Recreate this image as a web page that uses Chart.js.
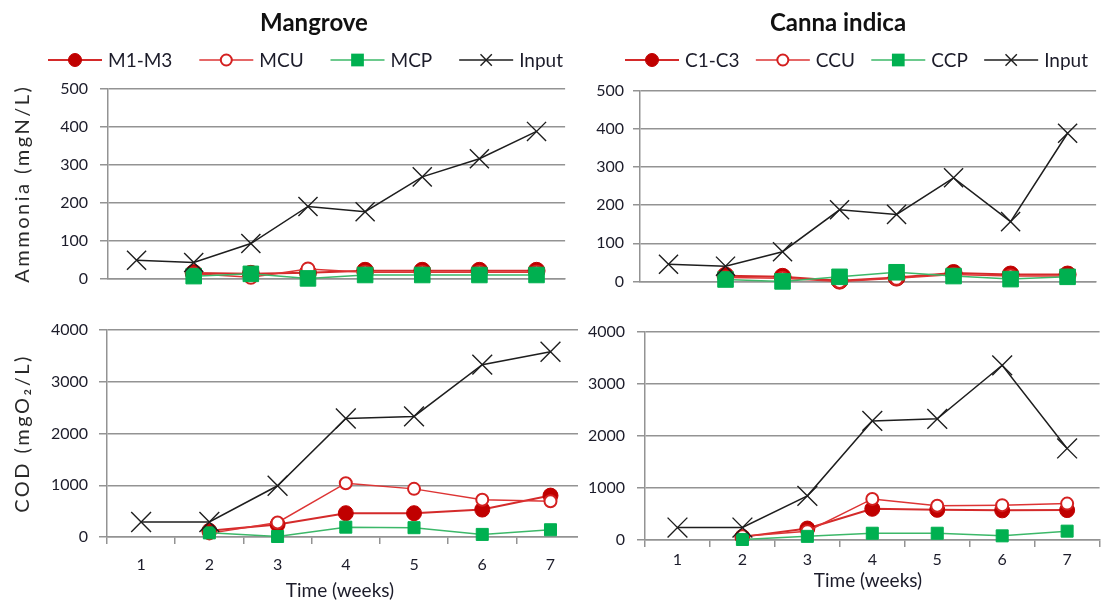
<!DOCTYPE html>
<html>
<head>
<meta charset="utf-8">
<title>Mangrove and Canna indica: Ammonia and COD</title>
<script src="https://cdn.jsdelivr.net/npm/chart.js@4.4.1/dist/chart.umd.min.js"></script>
<style>
  html, body { margin: 0; padding: 0; background: #ffffff; overflow: hidden; }
  #page { position: relative; width: 1111px; height: 604px; overflow: hidden; }
  .panel { position: absolute; background: #ffffff; }
</style>
</head>
<body>
<div id="page">
  <div class="panel" id="tl"><canvas></canvas></div>
  <div class="panel" id="bl"><canvas></canvas></div>
  <div class="panel" id="tr"><canvas></canvas></div>
  <div class="panel" id="br"><canvas></canvas></div>
</div>
<script>
// ---- data ----
const AMMONIA_TIMES = ["0", "1", "2", "3", "4", "5", "6", "7"];
const COD_WEEKS = ["1", "2", "3", "4", "5", "6", "7"];

const AMMONIA_TICKS = [0, 500, 100];
const COD_TICKS = [0, 4000, 1000];

// Mangrove, ammonia (mgN/L)
const MANGROVE_NH4_M1M3 = [null, 14, 12, 15, 20, 20, 20, 20];
const MANGROVE_NH4_MCU = [null, 12, 3, 25, 16, 16, 16, 16];
const MANGROVE_NH4_MCP = [null, 6, 12, 0, 9, 9, 9, 9];
const MANGROVE_NH4_INPUT = [48, 42, 92, 190, 176, 268, 316, 388];

// Canna indica, ammonia (mgN/L)
const CANNA_NH4_C1C3 = [null, 15, 12, 2, 10, 22, 18, 18];
const CANNA_NH4_CCU = [null, 10, 8, 0, 8, 18, 14, 14];
const CANNA_NH4_CCP = [null, 5, 0, 12, 24, 14, 6, 12];
const CANNA_NH4_INPUT = [45, 40, 78, 188, 176, 272, 157, 389];

// Mangrove, COD (mgO2/L)
const MANGROVE_COD_M1M3 = [null, 120, 240, 460, 460, 530, 800];
const MANGROVE_COD_MCU = [null, 70, 280, 1040, 930, 720, 690];
const MANGROVE_COD_MCP = [null, 80, 10, 190, 180, 50, 140];
const MANGROVE_COD_INPUT = [290, 290, 990, 2290, 2330, 3330, 3580];

// Canna indica, COD (mgO2/L)
const CANNA_COD_C1C3 = [null, 60, 220, 600, 580, 570, 575];
const CANNA_COD_CCU = [null, 70, 170, 790, 660, 670, 700];
const CANNA_COD_CCP = [null, 10, 70, 130, 130, 80, 170];
const CANNA_COD_INPUT = [240, 240, 850, 2290, 2330, 3360, 1760];

// ---- styles ----
const FONT = "Lato, 'Open Sans', sans-serif";
const TEXT_COLOR = "#1c1c2a";
const AXIS_GRAY = "#939393";

const SERIES_STYLES = {
  filled: { line: "#d42a2a", width: 2, fill: "#c00000", stroke: "#c00000", strokeWidth: 1, shape: "circle", legendRadius: 6.5 },
  hollow: { line: "#dd3434", width: 1.5, fill: "#ffffff", stroke: "#d42020", strokeWidth: 2, shape: "circle", legendRadius: 5.5 },
  square: { line: "#3cb869", width: 1.5, fill: "#00b050", stroke: "#00b050", strokeWidth: 1, shape: "rect", legendRadius: 9 },
  input: { line: "#1e1e1e", width: 1.5, fill: "#1e1e1e", stroke: "#1e1e1e", strokeWidth: 1.4, shape: "crossRot", legendRadius: 8 }
};

const TOP_RADIUS = { filled: 8.5, hollow: 6.5, square: 11, input: 13.5 };
const BOTTOM_RADIUS = { filled: 7.5, hollow: 6, square: 8.5, input: 14 };
const DRAW_ORDER = { filled: 4, hollow: 3, square: 2, input: 1 };

function makeDataset(label, data, kind, radii) {
  const s = SERIES_STYLES[kind];
  return {
    label,
    data,
    kind,
    borderColor: s.line,
    borderWidth: s.width,
    backgroundColor: s.fill,
    pointBackgroundColor: s.fill,
    pointBorderColor: s.stroke,
    pointBorderWidth: s.strokeWidth,
    pointStyle: s.shape,
    pointRadius: radii[kind],
    pointHoverRadius: radii[kind],
    tension: 0,
    fill: false,
    clip: false,
    order: DRAW_ORDER[kind]
  };
}

function drawMarker(ctx, kind, x, y) {
  const s = SERIES_STYLES[kind];
  const r = s.legendRadius;
  const h = r * Math.SQRT1_2;
  ctx.save();
  ctx.fillStyle = s.fill;
  ctx.strokeStyle = s.stroke;
  ctx.lineWidth = s.strokeWidth;
  ctx.beginPath();
  if (s.shape === "circle") {
    ctx.arc(x, y, r, 0, Math.PI * 2);
    ctx.fill();
    ctx.stroke();
  } else if (s.shape === "rect") {
    ctx.rect(x - h, y - h, 2 * h, 2 * h);
    ctx.fill();
  } else {
    ctx.moveTo(x - h, y - h);
    ctx.lineTo(x + h, y + h);
    ctx.moveTo(x - h, y + h);
    ctx.lineTo(x + h, y - h);
    ctx.stroke();
  }
  ctx.restore();
}

// titles, legend row and axis titles
const panelText = {
  id: "panelText",
  afterDraw(chart, args, opts) {
    const ctx = chart.ctx;
    const area = chart.chartArea;
    ctx.save();
    ctx.textBaseline = "middle";
    ctx.fillStyle = TEXT_COLOR;

    if (opts.title) {
      ctx.font = `bold 24px ${FONT}`;
      ctx.textAlign = "center";
      ctx.fillStyle = "#111111";
      ctx.fillText(opts.title.text, opts.title.x, opts.title.y);
    }

    if (opts.legend) {
      // legend row spread between its two ends
      const lineLen = 54;
      const gapText = 6;
      ctx.font = `19px ${FONT}`;
      const items = chart.data.datasets.map(ds => ({ ds, w: ctx.measureText(ds.label).width }));
      const used = items.reduce((sum, it) => sum + lineLen + gapText + it.w, 0);
      const gapItem = (opts.legend.x1 - opts.legend.x0 - used) / (items.length - 1);
      let x = opts.legend.x0;
      const y = opts.legend.y;
      items.forEach(it => {
        ctx.strokeStyle = it.ds.borderColor;
        ctx.lineWidth = it.ds.borderWidth;
        ctx.beginPath();
        ctx.moveTo(x, y);
        ctx.lineTo(x + lineLen, y);
        ctx.stroke();
        drawMarker(ctx, it.ds.kind, x + lineLen / 2, y);
        ctx.fillStyle = TEXT_COLOR;
        ctx.textAlign = "left";
        ctx.fillText(it.ds.label, x + lineLen + gapText, y + 1);
        x += lineLen + gapText + it.w + gapItem;
      });
    }

    if (opts.yTitle) {
      ctx.save();
      ctx.translate(opts.yTitle.x, (area.top + area.bottom) / 2);
      ctx.rotate(-Math.PI / 2);
      ctx.font = `20px ${FONT}`;
      ctx.letterSpacing = "2.5px";
      ctx.fillStyle = "#2a2a2a";
      ctx.textAlign = "center";
      ctx.fillText(opts.yTitle.text, 0, 0);
      ctx.restore();
    }

    if (opts.xTitle) {
      ctx.font = `19px ${FONT}`;
      ctx.fillStyle = TEXT_COLOR;
      ctx.textAlign = "center";
      ctx.fillText(opts.xTitle.text, opts.xTitle.x, opts.xTitle.y);
    }
    ctx.restore();
  }
};

function shiftText(text, frame) {
  const out = {};
  if (text.title) out.title = { text: text.title.text, x: text.title.x - frame.left, y: text.title.y - frame.top };
  if (text.legend) out.legend = { x0: text.legend.x0 - frame.left, x1: text.legend.x1 - frame.left, y: text.legend.y - frame.top };
  if (text.yTitle) out.yTitle = { text: text.yTitle.text, x: text.yTitle.x - frame.left };
  if (text.xTitle) out.xTitle = { text: text.xTitle.text, x: text.xTitle.x - frame.left, y: text.xTitle.y - frame.top };
  return out;
}

function createPanel(id, panel) {
  const holder = document.getElementById(id);
  const f = panel.frame;
  holder.style.left = f.left + "px";
  holder.style.top = f.top + "px";
  holder.style.width = f.width + "px";
  holder.style.height = f.height + "px";

  const area = {
    left: panel.area.left - f.left,
    right: panel.area.right - f.left,
    top: panel.area.top - f.top,
    bottom: panel.area.bottom - f.top
  };
  const [yMin, yMax, yStep] = panel.yTicks;

  return new Chart(holder.querySelector("canvas"), {
    type: "line",
    data: { labels: panel.labels, datasets: panel.datasets },
    options: {
      responsive: true,
      maintainAspectRatio: false,
      animation: false,
      events: [],
      layout: { padding: { left: 0, top: area.top, right: f.width - area.right, bottom: 0 } },
      plugins: {
        legend: { display: false },
        tooltip: { enabled: false },
        panelText: shiftText(panel.text, f)
      },
      scales: {
        x: {
          type: "category",
          offset: true,
          grid: {
            display: true,
            offset: true,
            drawOnChartArea: false,
            drawTicks: panel.showX,
            tickLength: 7,
            color: AXIS_GRAY,
            lineWidth: 1.5
          },
          border: { display: true, color: AXIS_GRAY, width: 1.5 },
          ticks: {
            display: panel.showX,
            autoSkip: false,
            maxRotation: 0,
            padding: panel.xPad,
            color: TEXT_COLOR,
            font: { family: FONT, size: 16 }
          },
          afterFit(scale) {
            scale.height = f.height - area.bottom;
          }
        },
        y: {
          min: yMin,
          max: yMax,
          ticks: {
            stepSize: yStep,
            padding: panel.yPad,
            color: TEXT_COLOR,
            font: { family: FONT, size: 16 },
            callback: value => String(value)
          },
          grid: { color: AXIS_GRAY, lineWidth: 1.5, tickLength: panel.yTick },
          border: { display: true, color: AXIS_GRAY, width: 1.5 },
          afterFit(scale) {
            scale.width = area.left;
          }
        }
      }
    },
    plugins: [panelText]
  });
}

createPanel("tl", {
  frame: { left: 0, top: 0, width: 580, height: 300 },
  area: { left: 108, right: 570, top: 89, bottom: 289 },
  labels: AMMONIA_TIMES,
  yTicks: AMMONIA_TICKS,
  showX: false,
  xPad: 0,
  yPad: 12,
  yTick: 8,
  datasets: [
    makeDataset("M1-M3", MANGROVE_NH4_M1M3, "filled", TOP_RADIUS),
    makeDataset("MCU", MANGROVE_NH4_MCU, "hollow", TOP_RADIUS),
    makeDataset("MCP", MANGROVE_NH4_MCP, "square", TOP_RADIUS),
    makeDataset("Input", MANGROVE_NH4_INPUT, "input", TOP_RADIUS)
  ],
  text: {
    title: { text: "Mangrove", x: 314, y: 23 },
    legend: { x0: 48, x1: 563, y: 60 },
    yTitle: { text: "Ammonia (mgN/L)", x: 23 }
  }
});

createPanel("bl", {
  frame: { left: 0, top: 300, width: 600, height: 304 },
  area: { left: 107, right: 595, top: 330, bottom: 537 },
  labels: COD_WEEKS,
  yTicks: COD_TICKS,
  showX: true,
  xPad: 11,
  yPad: 11,
  yTick: 8,
  datasets: [
    makeDataset("M1-M3", MANGROVE_COD_M1M3, "filled", BOTTOM_RADIUS),
    makeDataset("MCU", MANGROVE_COD_MCU, "hollow", BOTTOM_RADIUS),
    makeDataset("MCP", MANGROVE_COD_MCP, "square", BOTTOM_RADIUS),
    makeDataset("Input", MANGROVE_COD_INPUT, "input", BOTTOM_RADIUS)
  ],
  text: {
    yTitle: { text: "COD (mgO\u2082/L)", x: 23 },
    xTitle: { text: "Time (weeks)", x: 340, y: 591 }
  }
});

createPanel("tr", {
  frame: { left: 570, top: 0, width: 541, height: 300 },
  area: { left: 640, right: 1099, top: 91, bottom: 290 },
  labels: AMMONIA_TIMES,
  yTicks: AMMONIA_TICKS,
  showX: false,
  xPad: 0,
  yPad: 9,
  yTick: 7,
  datasets: [
    makeDataset("C1-C3", CANNA_NH4_C1C3, "filled", TOP_RADIUS),
    makeDataset("CCU", CANNA_NH4_CCU, "hollow", TOP_RADIUS),
    makeDataset("CCP", CANNA_NH4_CCP, "square", TOP_RADIUS),
    makeDataset("Input", CANNA_NH4_INPUT, "input", TOP_RADIUS)
  ],
  text: {
    title: { text: "Canna indica", x: 838, y: 23 },
    legend: { x0: 625, x1: 1088, y: 60 }
  }
});

createPanel("br", {
  frame: { left: 578, top: 300, width: 537, height: 304 },
  area: { left: 645, right: 1115, top: 332, bottom: 540 },
  labels: COD_WEEKS,
  yTicks: COD_TICKS,
  showX: true,
  xPad: 3,
  yPad: 12,
  yTick: 8,
  datasets: [
    makeDataset("C1-C3", CANNA_COD_C1C3, "filled", BOTTOM_RADIUS),
    makeDataset("CCU", CANNA_COD_CCU, "hollow", BOTTOM_RADIUS),
    makeDataset("CCP", CANNA_COD_CCP, "square", BOTTOM_RADIUS),
    makeDataset("Input", CANNA_COD_INPUT, "input", BOTTOM_RADIUS)
  ],
  text: {
    xTitle: { text: "Time (weeks)", x: 868, y: 581 }
  }
});
</script>
</body>
</html>
